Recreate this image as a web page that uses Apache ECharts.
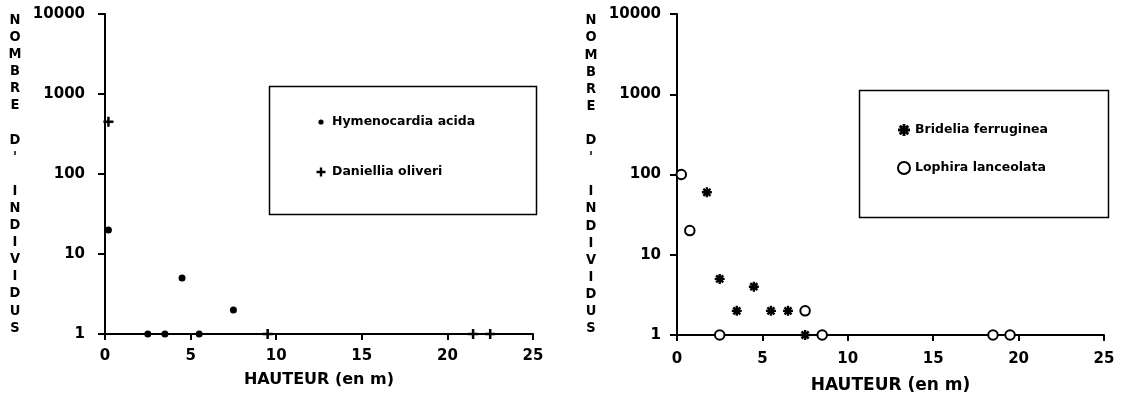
<!DOCTYPE html>
<html>
<head>
<meta charset="utf-8">
<script src="https://cdn.jsdelivr.net/npm/echarts@6/dist/echarts.min.js"></script>
<style>
html,body{margin:0;padding:0;background:#fff;}
#chart{width:1125px;height:401px;}
</style>
</head>
<body>
<div id="chart"></div>
<script>
// ---- data ----
const hymenocardiaHeights = [0.2, 2.5, 3.5, 4.5, 5.5, 7.5];
const hymenocardiaCounts  = [20, 1, 1, 5, 1, 2];
const danielliaHeights    = [0.2, 9.5, 21.5, 22.5];
const danielliaCounts     = [450, 1, 1, 1];
const brideliaHeights     = [1.75, 2.5, 3.5, 4.5, 5.5, 6.5, 7.5];
const brideliaCounts      = [60, 5, 2, 4, 2, 2, 1];
const lophiraHeights      = [0.25, 0.75, 2.5, 7.5, 8.5, 18.5, 19.5];
const lophiraCounts       = [100, 20, 1, 2, 1, 1, 1];
const seriesNames = ['Hymenocardia acida', 'Daniellia oliveri', 'Bridelia ferruginea', 'Lophira lanceolata'];
const xAxisTitle = 'HAUTEUR (en m)';
const yAxisTitle = "NOMBRE D' INDIVIDUS";

// ---- helpers ----
const pairs = (xs, ys) => xs.map((x, i) => [x, ys[i]]);
const stacked = s => s.split('').map(c => c === ' ' ? '' : c).join('\n');

const PLUS = 'path://M0 3.75L10 3.75L10 6.25L0 6.25ZM3.75 0L6.25 0L6.25 10L3.75 10Z';
const STAR = 'path://M0 3.8L10 3.8L10 6.2L0 6.2Z' +
  'M3.8 0L6.2 0L6.2 10L3.8 10Z' +
  'M2.313 0.615L9.385 7.687L7.687 9.385L0.615 2.313Z' +
  'M7.687 0.615L9.385 2.313L2.313 9.385L0.615 7.687Z';
const LEG_DOT = 'path://M0 0M12 12M8.6 6A2.6 2.6 0 1 1 3.4 6A2.6 2.6 0 1 1 8.6 6Z';
const LEG_PLUS = 'path://M0 0M12 12M1.5 4.8L10.5 4.8L10.5 7.2L1.5 7.2ZM4.8 1.5L7.2 1.5L7.2 10.5L4.8 10.5Z';

const FONT = "'DejaVu Sans', sans-serif";
const TITLE_FONT = "'Liberation Sans Narrow', 'DejaVu Sans Condensed', 'DejaVu Sans', sans-serif";

function xAxisDef(gridIndex, nameGap, labelMargin, nameSize) {
  return {
    gridIndex, type: 'value', min: 0, max: 25, interval: 5,
    name: xAxisTitle, nameLocation: 'middle', nameGap,
    nameTextStyle: { color: '#000', fontFamily: FONT, fontWeight: 'bold', fontSize: nameSize },
    axisLine: { onZero: false, lineStyle: { color: '#000', width: 2 } },
    axisTick: { inside: false, length: 6, lineStyle: { color: '#000', width: 2 } },
    axisLabel: { margin: labelMargin, color: '#000', fontFamily: FONT, fontWeight: 'bold', fontSize: 15 },
    splitLine: { show: false }
  };
}
function yAxisDef(gridIndex, nameGap, labelMargin) {
  return {
    gridIndex, type: 'log', logBase: 10, min: 1, max: 10000,
    name: stacked(yAxisTitle), nameLocation: 'middle', nameGap, nameRotate: 0,
    nameTextStyle: { color: '#000', fontFamily: TITLE_FONT, fontWeight: 'bold', fontSize: 14.5,
      lineHeight: 17.1, align: 'center', verticalAlign: 'middle', padding: [0, 0, 18, 0] },
    axisLine: { show: true, lineStyle: { color: '#000', width: 2 } },
    axisTick: { show: true, inside: false, length: 7, lineStyle: { color: '#000', width: 2 } },
    minorTick: { show: false },
    axisLabel: { margin: labelMargin, color: '#000', fontFamily: FONT, fontWeight: 'bold', fontSize: 15,
      formatter: v => String(Math.round(v)) },
    splitLine: { show: false }
  };
}

const chart = echarts.init(document.getElementById('chart'), null, { renderer: 'canvas' });
chart.setOption({
  backgroundColor: '#fff',
  animation: false,
  grid: [
    { left: 105, top: 14, width: 428, height: 320 },
    { left: 677, top: 14, width: 427, height: 321 }
  ],
  xAxis: [xAxisDef(0, 38, 15, 16), xAxisDef(1, 42, 17, 17)],
  yAxis: [yAxisDef(0, 90, 20), yAxisDef(1, 86, 16)],
  legend: [
    {
      left: 315, top: 114, orient: 'vertical', itemWidth: 12, itemHeight: 12, itemGap: 34, padding: 0,
      textStyle: { color: '#000', fontFamily: FONT, fontWeight: 'bold', fontSize: 12.5, lineHeight: 16 },
      data: [
        { name: seriesNames[0], icon: LEG_DOT },
        { name: seriesNames[1], icon: LEG_PLUS }
      ]
    },
    {
      left: 897, top: 122, orient: 'vertical', itemWidth: 12, itemHeight: 12, itemGap: 22, padding: 0,
      textStyle: { color: '#000', fontFamily: FONT, fontWeight: 'bold', fontSize: 12.5, lineHeight: 16 },
      data: [
        { name: seriesNames[2] },
        { name: seriesNames[3] }
      ]
    }
  ],
  graphic: [
    { type: 'rect', left: 267, top: 84, shape: { x: 0, y: 0, width: 267, height: 128 },
      style: { fill: 'none', stroke: '#000', lineWidth: 1.5 }, silent: true },
    { type: 'rect', left: 857, top: 88, shape: { x: 0, y: 0, width: 249, height: 127 },
      style: { fill: 'none', stroke: '#000', lineWidth: 1.5 }, silent: true }
  ],
  series: [
    { name: seriesNames[0], type: 'scatter', xAxisIndex: 0, yAxisIndex: 0,
      data: pairs(hymenocardiaHeights, hymenocardiaCounts),
      symbol: 'circle', symbolSize: 7, itemStyle: { color: '#000', opacity: 1 }, clip: false },
    { name: seriesNames[1], type: 'scatter', xAxisIndex: 0, yAxisIndex: 0,
      data: pairs(danielliaHeights, danielliaCounts),
      symbol: PLUS, symbolSize: 10, itemStyle: { color: '#000', opacity: 1 }, clip: false },
    { name: seriesNames[2], type: 'scatter', xAxisIndex: 1, yAxisIndex: 1,
      data: pairs(brideliaHeights, brideliaCounts),
      symbol: STAR, symbolSize: 10, itemStyle: { color: '#000', opacity: 1 }, clip: false },
    { name: seriesNames[3], type: 'scatter', xAxisIndex: 1, yAxisIndex: 1,
      data: pairs(lophiraHeights, lophiraCounts),
      symbol: 'circle', symbolSize: 9.5,
      itemStyle: { color: '#fff', borderColor: '#000', borderWidth: 2, opacity: 1 }, clip: false, z: 3 }
  ]
});
</script>
</body>
</html>
